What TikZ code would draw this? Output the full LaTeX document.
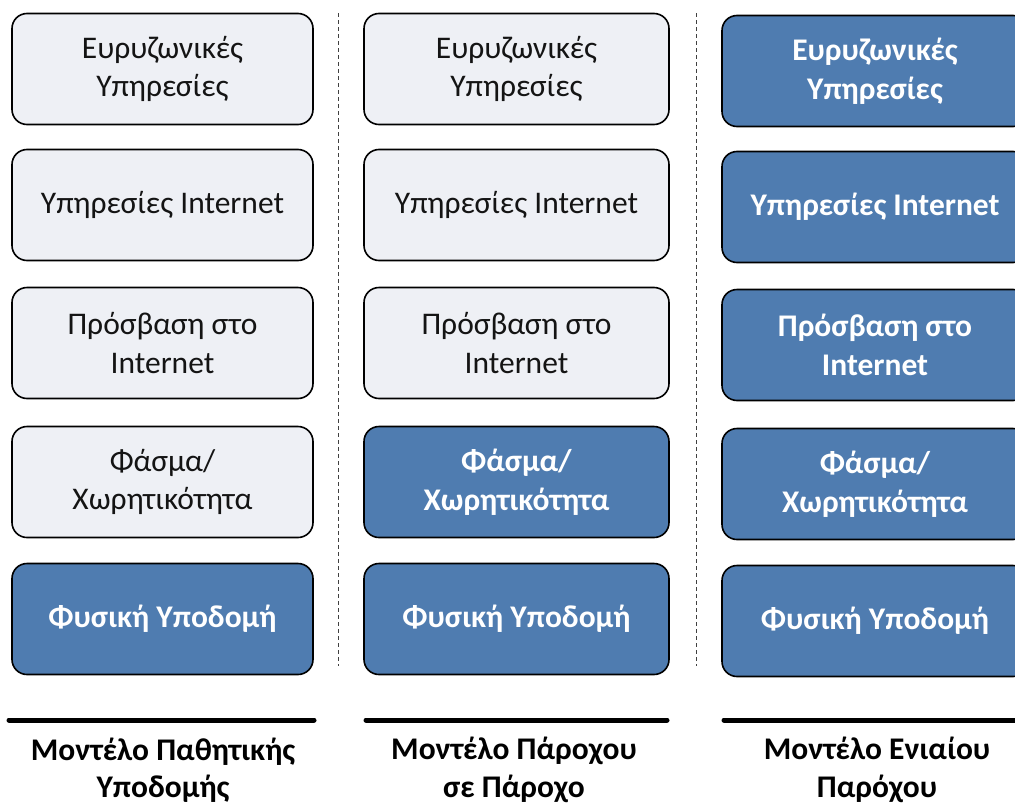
\documentclass[tikz,border=0pt]{standalone}
\usepackage{fontspec}
\setmainfont{Carlito}
\begin{document}
\begin{tikzpicture}[x=1pt,y=-1pt,
  layer/.style={draw=black, line width=1.6pt, rounded corners=15pt,
    minimum height=111pt, align=center, inner sep=0pt,
    font=\fontsize{31.5}{38.5}\selectfont},
  light/.style={layer, fill=lightfill, text=black!92},
  dark/.style={layer, fill=darkfill, text=white,
    font=\fontsize{31.5}{38.5}\selectfont\bfseries},
  sep/.style={dashed, line width=0.8pt, dash pattern=on 4pt off 3pt, black!75},
  bar/.style={line width=5pt, line cap=round},
  caption/.style={align=center,
    font=\fontsize{31.5}{37.5}\selectfont\bfseries}]
\definecolor{lightfill}{HTML}{EEF0F5}
\definecolor{darkfill}{HTML}{4F7CB0}
\useasboundingbox (0,0) rectangle (1015,806);
\clip (0,0) rectangle (1015,806);

% column 1: passive infrastructure
\node[light, minimum width=301pt] (a1) at (162.5,69) {Ευρυζωνικές\\Υπηρεσίες};
\node[light, minimum width=301pt] (a2) at (162.5,205) {Υπηρεσίες Internet};
\node[light, minimum width=301pt] (a3) at (162.5,343) {Πρόσβαση στο\\Internet};
\node[light, minimum width=301pt] (a4) at (162.5,482) {Φάσμα/\\Χωρητικότητα};
\node[dark, minimum width=301pt] (a5) at (162.5,619) {Φυσική Υποδομή};

% column 2: provider to provider
\node[light, minimum width=305pt] (b1) at (516.5,69) {Ευρυζωνικές\\Υπηρεσίες};
\node[light, minimum width=305pt] (b2) at (516.5,205) {Υπηρεσίες Internet};
\node[light, minimum width=305pt] (b3) at (516.5,343) {Πρόσβαση στο\\Internet};
\node[dark, minimum width=305pt] (b4) at (516.5,482) {Φάσμα/\\Χωρητικότητα};
\node[dark, minimum width=305pt] (b5) at (516.5,619) {Φυσική Υποδομή};

% column 3: single provider
\node[dark, minimum width=306pt] (c1) at (875,71) {Ευρυζωνικές\\Υπηρεσίες};
\node[dark, minimum width=306pt] (c2) at (875,207) {Υπηρεσίες Internet};
\node[dark, minimum width=306pt] (c3) at (875,345) {Πρόσβαση στο\\Internet};
\node[dark, minimum width=306pt] (c4) at (875,484) {Φάσμα/\\Χωρητικότητα};
\node[dark, minimum width=306pt] (c5) at (875,621) {Φυσική Υποδομή};

% column separators
\coordinate (s1t) at (338.5,13);
\coordinate (s1b) at (338.5,666);
\coordinate (s2t) at (696.5,13);
\coordinate (s2b) at (696.5,666);
\draw[sep] (s1t) -- (s1b);
\draw[sep] (s2t) -- (s2b);

% baselines under each column
\coordinate (l1) at (9,720);   \coordinate (r1) at (314,720);
\coordinate (l2) at (366,720); \coordinate (r2) at (667,720);
\coordinate (l3) at (724,720); \coordinate (r3) at (1020,720);
\draw[bar] (l1) -- (r1);
\draw[bar] (l2) -- (r2);
\draw[bar] (l3) -- (r3);

% captions
\node[caption] (t1) at (163,770) {Μοντέλο Παθητικής\\Υποδομής};
\node[caption] (t2) at (514,770) {Μοντέλο Πάροχου\\σε Πάροχο};
\node[caption] (t3) at (877,770) {Μοντέλο Ενιαίου\\Παρόχου};
\end{tikzpicture}
\end{document}
